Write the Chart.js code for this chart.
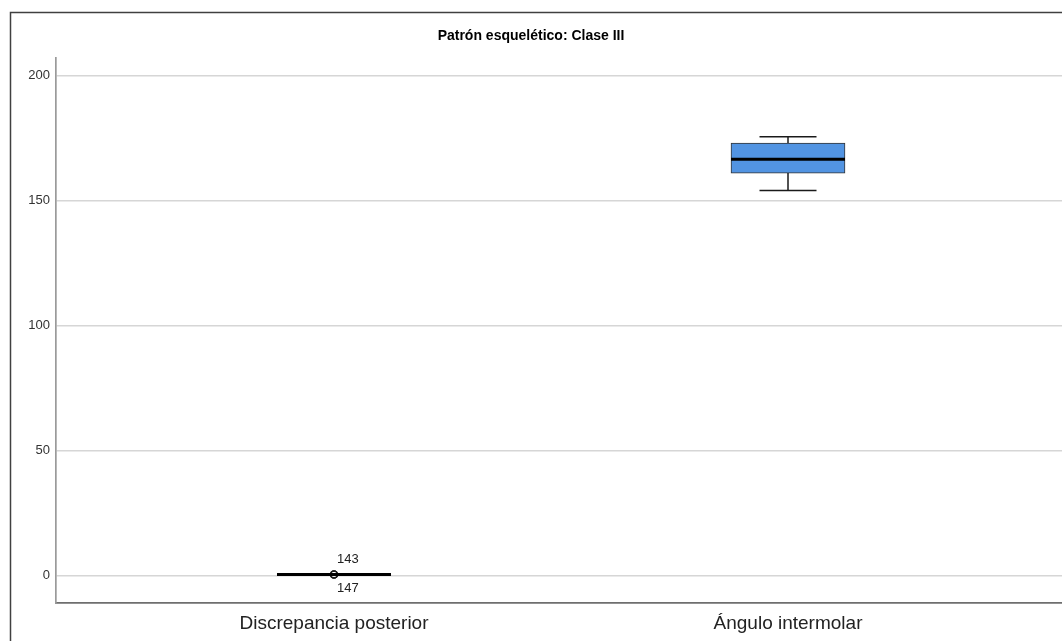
<!DOCTYPE html>
<html>
<head>
<meta charset="utf-8">
<title>Patrón esquelético: Clase III</title>
<script src="https://cdn.jsdelivr.net/npm/chart.js@4.4.1/dist/chart.umd.min.js"></script>
<style>
  html, body { margin: 0; padding: 0; background: #ffffff; }
  canvas { display: block; }
</style>
</head>
<body>
<canvas id="chart" width="1062" height="641"></canvas>
<script>
// Box-plot summaries per variable
const categories   = ['Discrepancia posterior', 'Ángulo intermolar'];
const positions    = [1, 2];
const whiskerLow   = [0.5, 154];
const q1           = [0.5, 161];
const median       = [0.5, 166.5];
const q3           = [0.5, 173];
const whiskerHigh  = [0.5, 175.5];

// Outlying cases (category index, value, case number)
const outlierCategory = [0, 0];
const outlierValues   = [0.5, 0.5];
const outlierCases    = ['143', '147'];

const yTicks = [0, 50, 100, 150, 200];

const FONT = "'Liberation Sans', Arial, Helvetica, sans-serif";
const BOX_PX = 114;

// Outer frame of the figure
const framePlugin = {
  id: 'frame',
  beforeDraw(chart) {
    const ctx = chart.ctx;
    ctx.save();
    ctx.strokeStyle = '#404040';
    ctx.lineWidth = 1.5;
    ctx.beginPath();
    ctx.moveTo(10.5, chart.height);
    ctx.lineTo(10.5, 12.5);
    ctx.lineTo(chart.width, 12.5);
    ctx.stroke();
    ctx.restore();
  }
};

// Whiskers, caps and median lines drawn from the scales
const boxPlugin = {
  id: 'boxWhiskers',
  afterDatasetsDraw(chart) {
    const ctx = chart.ctx;
    const xs = chart.scales.x, ys = chart.scales.y;
    ctx.save();
    positions.forEach((p, i) => {
      const cx = xs.getPixelForValue(p);
      const half = BOX_PX / 2;
      const capHalf = BOX_PX / 4;
      const yLo = ys.getPixelForValue(whiskerLow[i]);
      const yHi = ys.getPixelForValue(whiskerHigh[i]);
      const yQ1 = ys.getPixelForValue(q1[i]);
      const yQ3 = ys.getPixelForValue(q3[i]);
      const yMed = ys.getPixelForValue(median[i]);
      ctx.strokeStyle = '#1a1a1a';
      ctx.lineWidth = 1.5;
      ctx.beginPath();
      // upper whisker + cap
      ctx.moveTo(cx, yQ3); ctx.lineTo(cx, yHi);
      ctx.moveTo(cx - capHalf, yHi); ctx.lineTo(cx + capHalf, yHi);
      // lower whisker + cap
      ctx.moveTo(cx, yQ1); ctx.lineTo(cx, yLo);
      ctx.moveTo(cx - capHalf, yLo); ctx.lineTo(cx + capHalf, yLo);
      ctx.stroke();
      // median
      ctx.strokeStyle = '#000000';
      ctx.lineWidth = 3;
      ctx.beginPath();
      ctx.moveTo(cx - half, yMed); ctx.lineTo(cx + half, yMed);
      ctx.stroke();
    });
    // outlier case labels, alternating above and below the point
    const meta = chart.getDatasetMeta(1);
    ctx.fillStyle = '#222222';
    ctx.font = '13px ' + FONT;
    ctx.textAlign = 'left';
    ctx.textBaseline = 'middle';
    meta.data.forEach((pt, k) => {
      const dy = (k % 2 === 0) ? -15 : 14;
      ctx.fillText(outlierCases[k], pt.x + 3, pt.y + dy);
    });
    ctx.restore();
  }
};

new Chart(document.getElementById('chart'), {
  type: 'bar',
  data: {
    datasets: [
      {
        type: 'bar',
        data: positions.map((p, i) => ({ x: p, y: [q1[i], q3[i]] })),
        backgroundColor: '#5294e2',
        borderColor: '#333333',
        borderWidth: 1,
        borderSkipped: false,
        barThickness: BOX_PX,
        order: 2
      },
      {
        type: 'scatter',
        data: outlierValues.map((v, k) => ({ x: positions[outlierCategory[k]], y: v })),
        pointStyle: 'circle',
        pointRadius: 3.5,
        pointBorderWidth: 1.5,
        pointBorderColor: '#1a1a1a',
        pointBackgroundColor: 'rgba(255,255,255,0)',
        showLine: false,
        order: 0
      }
    ]
  },
  options: {
    responsive: false,
    animation: false,
    layout: { autoPadding: false, padding: { left: 0, right: 0, top: 0, bottom: 0 } },
    plugins: {
      legend: { display: false },
      tooltip: { enabled: false },
      title: {
        display: true,
        text: 'Patrón esquelético: Clase III',
        color: '#000000',
        font: { family: FONT, size: 14, weight: 'bold' },
        padding: { top: 28, bottom: 13 }
      }
    },
    scales: {
      x: {
        type: 'linear',
        min: 0.3877,
        max: 2.6035,
        offset: false,
        grid: { display: false, drawTicks: false },
        border: { display: true, color: '#6e6e6e', width: 1.7 },
        afterBuildTicks: s => { s.ticks = positions.map(v => ({ value: v })); },
        afterFit: s => { s.height = 38; s.paddingLeft = 0; s.paddingRight = 0; },
        ticks: {
          padding: 9,
          color: '#222222',
          font: { family: FONT, size: 19 },
          maxRotation: 0,
          autoSkip: false,
          callback: v => categories[positions.indexOf(v)]
        }
      },
      y: {
        type: 'linear',
        min: -10.9,
        max: 207.1,
        grid: { color: '#d6d6d6', lineWidth: 1.5, drawTicks: false },
        border: { display: true, color: '#9a9a9a', width: 1.7 },
        afterBuildTicks: s => { s.ticks = yTicks.map(v => ({ value: v })); },
        afterFit: s => { s.width = 56; },
        ticks: {
          padding: 6,
          color: '#333333',
          font: { family: FONT, size: 13 }
        }
      }
    }
  },
  plugins: [framePlugin, boxPlugin]
});
</script>
</body>
</html>
